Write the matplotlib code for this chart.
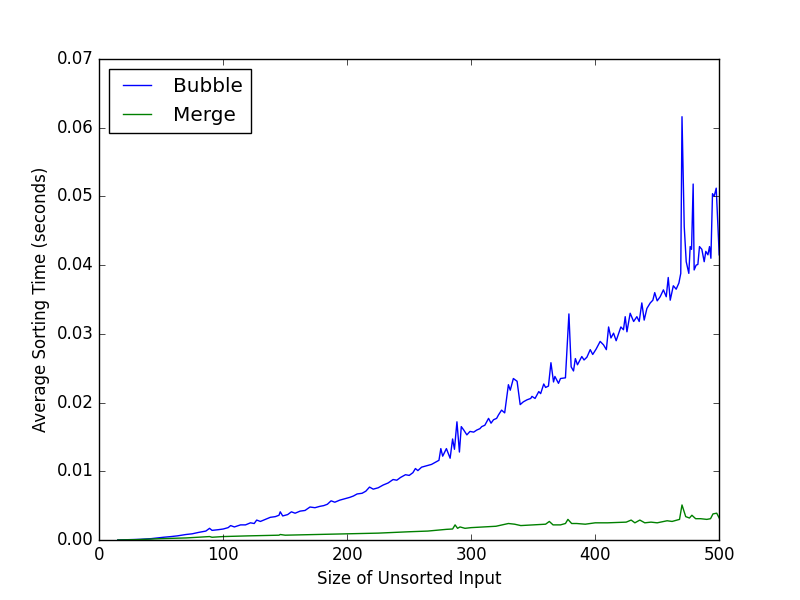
import matplotlib
matplotlib.use("Agg")
import matplotlib.pyplot as plt

bubble_x = [15, 25, 33, 42, 52, 58, 63, 70, 75, 80, 86, 89, 91, 96, 100, 104, 106, 109, 114, 118,
            122, 125, 127, 130, 134, 138, 142, 145, 146, 148, 152, 155, 158, 162, 166, 170, 174, 178,
            181, 184, 187, 190, 194, 198, 202, 205, 208, 212, 215, 218, 221, 225, 229, 233, 237, 240,
            243, 247, 250, 253, 255, 257, 260, 264, 268, 272, 274, 275.5, 277, 280, 283, 285, 286.5,
            288.5, 290.5, 292, 294, 296.5, 299, 302, 304.5, 307, 308.5, 311, 314, 316, 318, 320.5,
            322, 324.5, 327, 330, 331.5, 334, 337, 339.5, 342, 345, 348, 349, 351.5, 354.5, 356,
            358.5, 360, 362.3, 364.3, 366.4, 367.5, 370.4, 372, 376, 378.8, 380.6, 382.5, 384,
            385.7, 389.2, 391, 393.3, 396, 398, 400.8, 404, 406.7, 409, 410.8, 412.7, 414.8, 416.9,
            420.7, 422.8, 424.2, 425.6, 428.2, 431, 433.6, 435.5, 437.6, 439.5, 441.7, 444.4, 446.5,
            448, 450, 452.4, 455, 457.3, 458.9, 460.5, 463, 465.3, 467.5, 469, 470, 471.8, 473.4,
            475.5, 476.6, 477.7, 479, 479.8, 481.4, 482.8, 484.1, 486, 487.9, 489.2, 490.9, 492.2,
            493.3, 494.6, 495.9, 497.6, 500]
bubble_y = [0.0, 0.00005, 0.0001, 0.0002, 0.0004, 0.0005, 0.0006, 0.0008, 0.0009, 0.0011, 0.0013,
            0.0017, 0.0014, 0.0015, 0.0016, 0.0018, 0.0021, 0.0019, 0.0022, 0.0022, 0.0025, 0.0024,
            0.0029, 0.0027, 0.0030, 0.0033, 0.0034, 0.0036, 0.0041, 0.0035, 0.0037, 0.0041, 0.0039,
            0.0042, 0.0043, 0.0048, 0.0047, 0.0049, 0.0050, 0.0052, 0.0057, 0.0055, 0.0058, 0.0060,
            0.0062, 0.0064, 0.0067, 0.0068, 0.0071, 0.0077, 0.0074, 0.0076, 0.0080, 0.0083, 0.0088,
            0.0087, 0.0091, 0.0095, 0.0094, 0.0098, 0.0104, 0.0101, 0.0106, 0.0108, 0.0110, 0.0114,
            0.0116, 0.0133, 0.0122, 0.0133, 0.0119, 0.0147, 0.0132, 0.0172, 0.0128, 0.0165, 0.0160,
            0.0153, 0.0158, 0.0157, 0.0160, 0.0162, 0.0165, 0.0167, 0.0177, 0.0170, 0.0175, 0.0177,
            0.0182, 0.0189, 0.0185, 0.0226, 0.0218, 0.0235, 0.0231, 0.0197, 0.0201, 0.0204, 0.0206,
            0.0209, 0.0206, 0.0216, 0.0213, 0.0227, 0.0222, 0.0224, 0.0258, 0.0230, 0.0238, 0.0228,
            0.0235, 0.0236, 0.0329, 0.0252, 0.0246, 0.0264, 0.0255, 0.0267, 0.0262, 0.0266, 0.0277,
            0.0270, 0.0278, 0.0289, 0.0284, 0.0277, 0.0310, 0.0294, 0.0301, 0.0290, 0.0310, 0.0306,
            0.0325, 0.0303, 0.0330, 0.0318, 0.0325, 0.0318, 0.0345, 0.0320, 0.0337, 0.0345, 0.0349,
            0.0360, 0.0348, 0.0354, 0.0364, 0.0354, 0.0382, 0.0349, 0.0370, 0.0365, 0.0374, 0.0388,
            0.0616, 0.0456, 0.0405, 0.0388, 0.0427, 0.0423, 0.0518, 0.0393, 0.0400, 0.0401, 0.0427,
            0.0423, 0.0405, 0.0420, 0.0415, 0.0427, 0.0410, 0.0504, 0.0500, 0.0512, 0.0415]

merge_x = [15, 30, 50, 70, 89, 91, 100, 120, 145, 146, 150, 175, 200, 225, 250, 265, 280, 285, 287,
           289, 291, 295, 300, 310, 320, 325, 330, 335, 340, 350, 360, 363, 366, 372, 376, 378, 381,
           385, 392, 400, 410, 425, 429, 432, 436, 440, 445, 450, 458, 462, 468, 470, 473, 476, 478,
           481, 485, 490, 493, 495, 498, 500]
merge_y = [0.0, 0.00005, 0.0002, 0.0003, 0.0005, 0.0004, 0.0005, 0.0006, 0.0007, 0.0008, 0.0007,
           0.0008, 0.0009, 0.0010, 0.0012, 0.0013, 0.00155, 0.0016, 0.0022, 0.0017, 0.0019, 0.0017,
           0.0018, 0.0019, 0.0020, 0.0022, 0.0024, 0.0023, 0.0021, 0.0022, 0.0023, 0.0027, 0.0022,
           0.0022, 0.0024, 0.0030, 0.0024, 0.0024, 0.0023, 0.0025, 0.0025, 0.0026, 0.0029, 0.0025,
           0.0029, 0.0025, 0.0026, 0.0025, 0.0028, 0.0027, 0.0030, 0.0051, 0.0034, 0.0032, 0.0036,
           0.0031, 0.0031, 0.0030, 0.0031, 0.0038, 0.0039, 0.0032]

plt.style.use("classic")
fig = plt.figure(figsize=(8, 6), dpi=100)
ax = fig.add_axes([0.124, 0.1, 0.775, 0.8017])
ax.plot(bubble_x, bubble_y, color="b", linewidth=1.0, label="Bubble")
ax.plot(merge_x, merge_y, color="g", linewidth=1.0, label="Merge")
ax.set_xlim(0, 500)
ax.set_ylim(0, 0.07)
ax.set_xlabel("Size of Unsorted Input")
ax.set_ylabel("Average Sorting Time (seconds)")
ax.legend(loc="upper left")
fig.savefig("out.png", dpi=100)
